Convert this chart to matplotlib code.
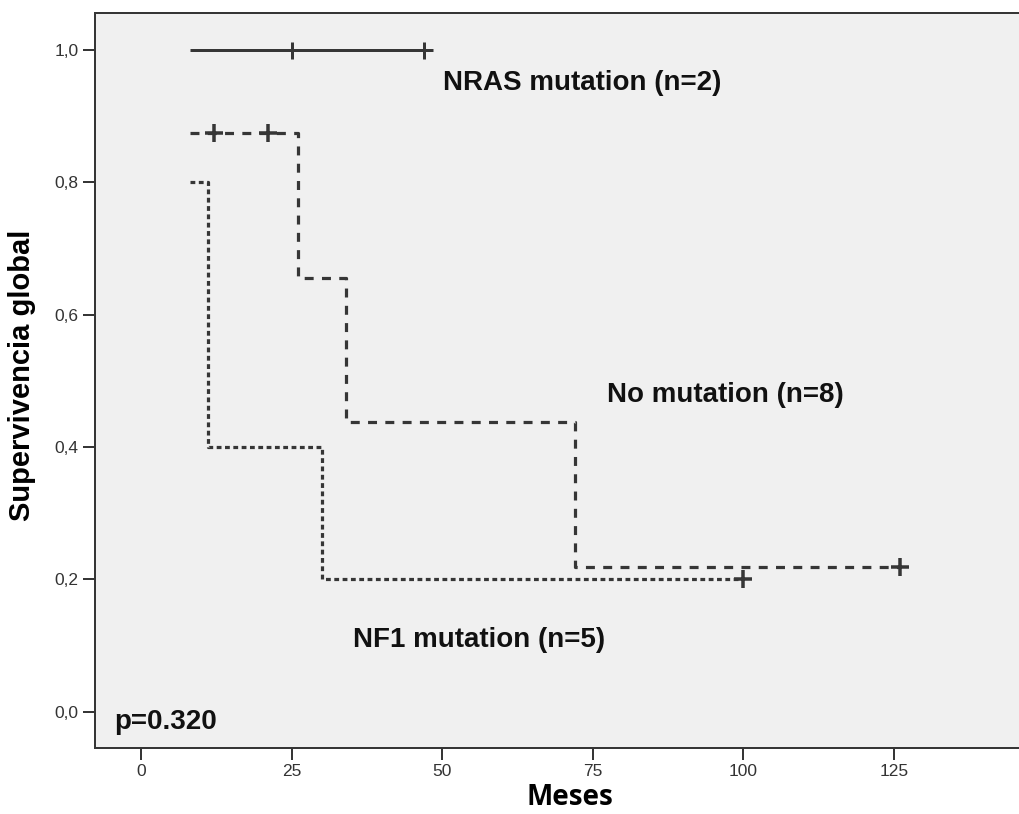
import numpy as np
import matplotlib
matplotlib.use('Agg')
import matplotlib.pyplot as plt

plt.rcParams['font.family'] = ['Liberation Sans', 'DejaVu Sans']

# Kaplan-Meier steps (months, survival)
nras_t = [8, 47]
nras_s = [1.0, 1.0]
nras_cens_t = [25, 47]
nras_cens_s = [1.0, 1.0]

nomut_t = [8, 26, 34, 72, 126]
nomut_s = [0.875, 0.656, 0.4375, 0.219, 0.219]
nomut_cens_t = [12, 21, 126]
nomut_cens_s = [0.875, 0.875, 0.219]

nf1_t = [8, 11, 30, 100]
nf1_s = [0.8, 0.4, 0.2, 0.2]
nf1_cens_t = [100]
nf1_cens_s = [0.2]

xticks = [0, 25, 50, 75, 100, 125]
yticks = [0.0, 0.2, 0.4, 0.6, 0.8, 1.0]
ytick_labels = ['0,0', '0,2', '0,4', '0,6', '0,8', '1,0']

W, H = 1020, 814
fig = plt.figure(figsize=(W / 100, H / 100), dpi=100)
ax = fig.add_axes([95 / W, (H - 748) / H, (1030 - 95) / W, (748 - 13) / H])
ax.set_facecolor('#f0f0f0')

col = '#363636'
px = 0.72  # points per pixel

ax.step(nras_t, nras_s, where='post', color=col, lw=3 * px, solid_capstyle='butt')
ax.plot(nras_cens_t, nras_cens_s, '+', color=col, ms=17 * px, mew=3 * px)

ax.step(nomut_t, nomut_s, where='post', color=col, lw=3.2 * px, dashes=(2.8, 2.6))
ax.plot(nomut_cens_t, nomut_cens_s, '+', color=col, ms=18 * px, mew=3.5 * px)

ax.step(nf1_t, nf1_s, where='post', color=col, lw=3.2 * px, dashes=(1.5, 1.1))
ax.plot(nf1_cens_t, nf1_cens_s, '+', color=col, ms=18 * px, mew=3.5 * px)

ax.set_xlim(-7.72, 147.6)
ax.set_ylim(-0.0548, 1.0556)

ax.set_xticks(xticks)
ax.set_yticks(yticks)
ax.set_yticklabels(ytick_labels)
ax.tick_params(direction='out', length=12 * px, width=2 * px, color=col,
               labelsize=12.5, labelcolor='#333333', pad=3)
for s in ['left', 'bottom', 'top']:
    ax.spines[s].set_color(col)
    ax.spines[s].set_linewidth(2 * px)
ax.spines['right'].set_visible(False)

lab_font = dict(fontweight='bold', fontsize=20, color='#111111')
ax.text(50.1, 0.950, 'NRAS mutation (n=2)', va='center', ha='left', **lab_font)
ax.text(77.3, 0.478, 'No mutation (n=8)', va='center', ha='left', **lab_font)
ax.text(35.1, 0.108, 'NF1 mutation (n=5)', va='center', ha='left', **lab_font)
ax.text(-4.6, -0.015, 'p=0.320', va='center', ha='left', **lab_font)

ax.set_xlabel('Meses', family=['Open Sans', 'DejaVu Sans'], fontweight='bold', fontsize=20)
ax.xaxis.set_label_coords((570 - 95) / (1030 - 95), -0.048)
ax.set_ylabel('Supervivencia global', fontweight='bold', fontsize=21)
ax.yaxis.set_label_coords(-(95 - 36) / (1030 - 95), 0.5 - (375 - 380.5) / (748 - 13))

fig.savefig('out.png', dpi=100)
